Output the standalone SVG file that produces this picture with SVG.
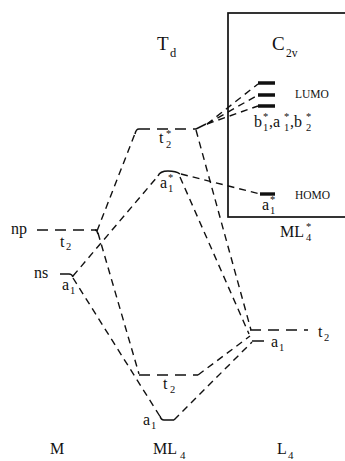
<svg xmlns="http://www.w3.org/2000/svg" width="345" height="461" viewBox="0 0 345 461">
<style>
text{font-family:"Liberation Serif","DejaVu Serif",serif;fill:#111}
.lab{font-size:16px}
.big{font-size:19px}
.sub{font-size:10.5px}
.sc{font-size:11.5px}
.lev{stroke:#111;stroke-width:1.5;fill:none;stroke-dasharray:11,7}
.sol{stroke:#111;stroke-width:1.5;fill:none}
.bar{stroke:#111;stroke-width:3.4;fill:none}
.con line,.con path{stroke:#111;stroke-width:1.4;fill:none;stroke-dasharray:7,5}
</style>
<rect width="345" height="461" fill="#fff"/>
<g id="box"><rect x="228" y="13" width="120" height="204" fill="none" stroke="#111" stroke-width="1.7"/></g>
<g id="title-Td"><text class="big" x="157" y="50">T</text><text class="sub" x="170" y="57" style="font-size:12.5px">d</text></g>
<g id="title-C2v"><text class="big" x="272" y="50">C</text><text class="sub" x="286" y="57" style="font-size:11.5px">2v</text></g>
<g class="con" id="connectors">
<line x1="97" y1="231" x2="136" y2="131"/>
<line x1="98" y1="233" x2="139" y2="374"/>
<line x1="73" y1="276" x2="158" y2="176"/>
<line x1="73" y1="278" x2="161" y2="418"/>
<line x1="196" y1="130" x2="251" y2="330"/>
<line x1="180" y1="177" x2="249" y2="334"/>
<line x1="198" y1="375" x2="250" y2="336"/>
<line x1="174" y1="420" x2="252" y2="342"/>
<line x1="181" y1="174" x2="260" y2="194"/>
<line x1="207" y1="124" x2="258" y2="84"/>
<line x1="207" y1="124" x2="258" y2="95"/>
<line x1="207" y1="124" x2="258" y2="106"/>
</g>
<g id="M-np"><text class="lab" x="11" y="234">np</text><path class="lev" d="M37,230 H97"/><path class="sol" d="M95,230 Q97,230 98,234"/><text class="lab" x="60" y="247">t</text><text class="sub" x="66" y="250">2</text></g>
<g id="M-ns"><text class="lab" x="34" y="278">ns</text><path class="sol" d="M60,274 H69 Q72,274 73,277"/><text class="lab" x="62" y="290">a</text><text class="sub" x="70" y="294">1</text></g>
<g id="ML4-t2star"><path class="sol" d="M135,134 Q136,129 139,129"/><path class="lev" d="M139,129 H196"/><path class="sol" d="M196,129 L206,124"/><text class="lab" x="159" y="143">t</text><text class="sub" x="166" y="148">2</text><text class="sub" x="166" y="137">*</text></g>
<g id="ML4-a1star"><path class="sol" d="M158,176 Q160,171 168,171 Q176,171 180,174"/><text class="lab" x="160" y="188">a</text><text class="sub" x="168" y="192">1</text><text class="sub" x="168" y="181">*</text></g>
<g id="ML4-t2"><path class="lev" d="M139,375 H198"/><text class="lab" x="163" y="389">t</text><text class="sub" x="170" y="393">2</text></g>
<g id="ML4-a1"><path class="sol" d="M160,416 Q161,420 164,420 H174"/><text class="lab" x="143" y="425">a</text><text class="sub" x="151" y="429">1</text></g>
<g id="L4-t2"><path class="lev" d="M250,330 H308"/><text class="lab" x="318" y="337">t</text><text class="sub" x="324" y="341">2</text></g>
<g id="L4-a1"><path class="sol" d="M252,341 H264"/><text class="lab" x="271" y="347">a</text><text class="sub" x="279" y="351">1</text></g>
<g id="LUMO"><path class="bar" d="M258,83 H275 M258,95 H275 M258,106 H275"/><text class="sc" x="295" y="98">LUMO</text>
<text class="lab" x="254" y="127">b</text><text class="sub" x="263" y="131">1</text><text class="sub" x="263" y="120">*</text>
<text class="lab" x="269" y="127">,a</text><text class="sub" x="284" y="131">1</text><text class="sub" x="284" y="120">*</text>
<text class="lab" x="290" y="127">,b</text><text class="sub" x="306" y="131">2</text><text class="sub" x="306" y="120">*</text></g>
<g id="HOMO"><path class="bar" d="M260,194 H275"/><text class="sc" x="295" y="199">HOMO</text><text class="lab" x="262" y="210">a</text><text class="sub" x="270" y="214">1</text><text class="sub" x="270" y="203">*</text></g>
<g id="label-ML4prime"><text class="lab" x="280" y="237">ML</text><text class="sub" x="306" y="241">4</text><text class="sub" x="306" y="230">*</text></g>
<g id="bottom-labels"><text class="lab" x="50" y="454">M</text><text class="lab" x="153" y="454">ML</text><text class="sub" x="180" y="459" style="font-size:11px">4</text><text class="lab" x="277" y="454">L</text><text class="sub" x="288" y="459" style="font-size:11px">4</text></g>
</svg>
